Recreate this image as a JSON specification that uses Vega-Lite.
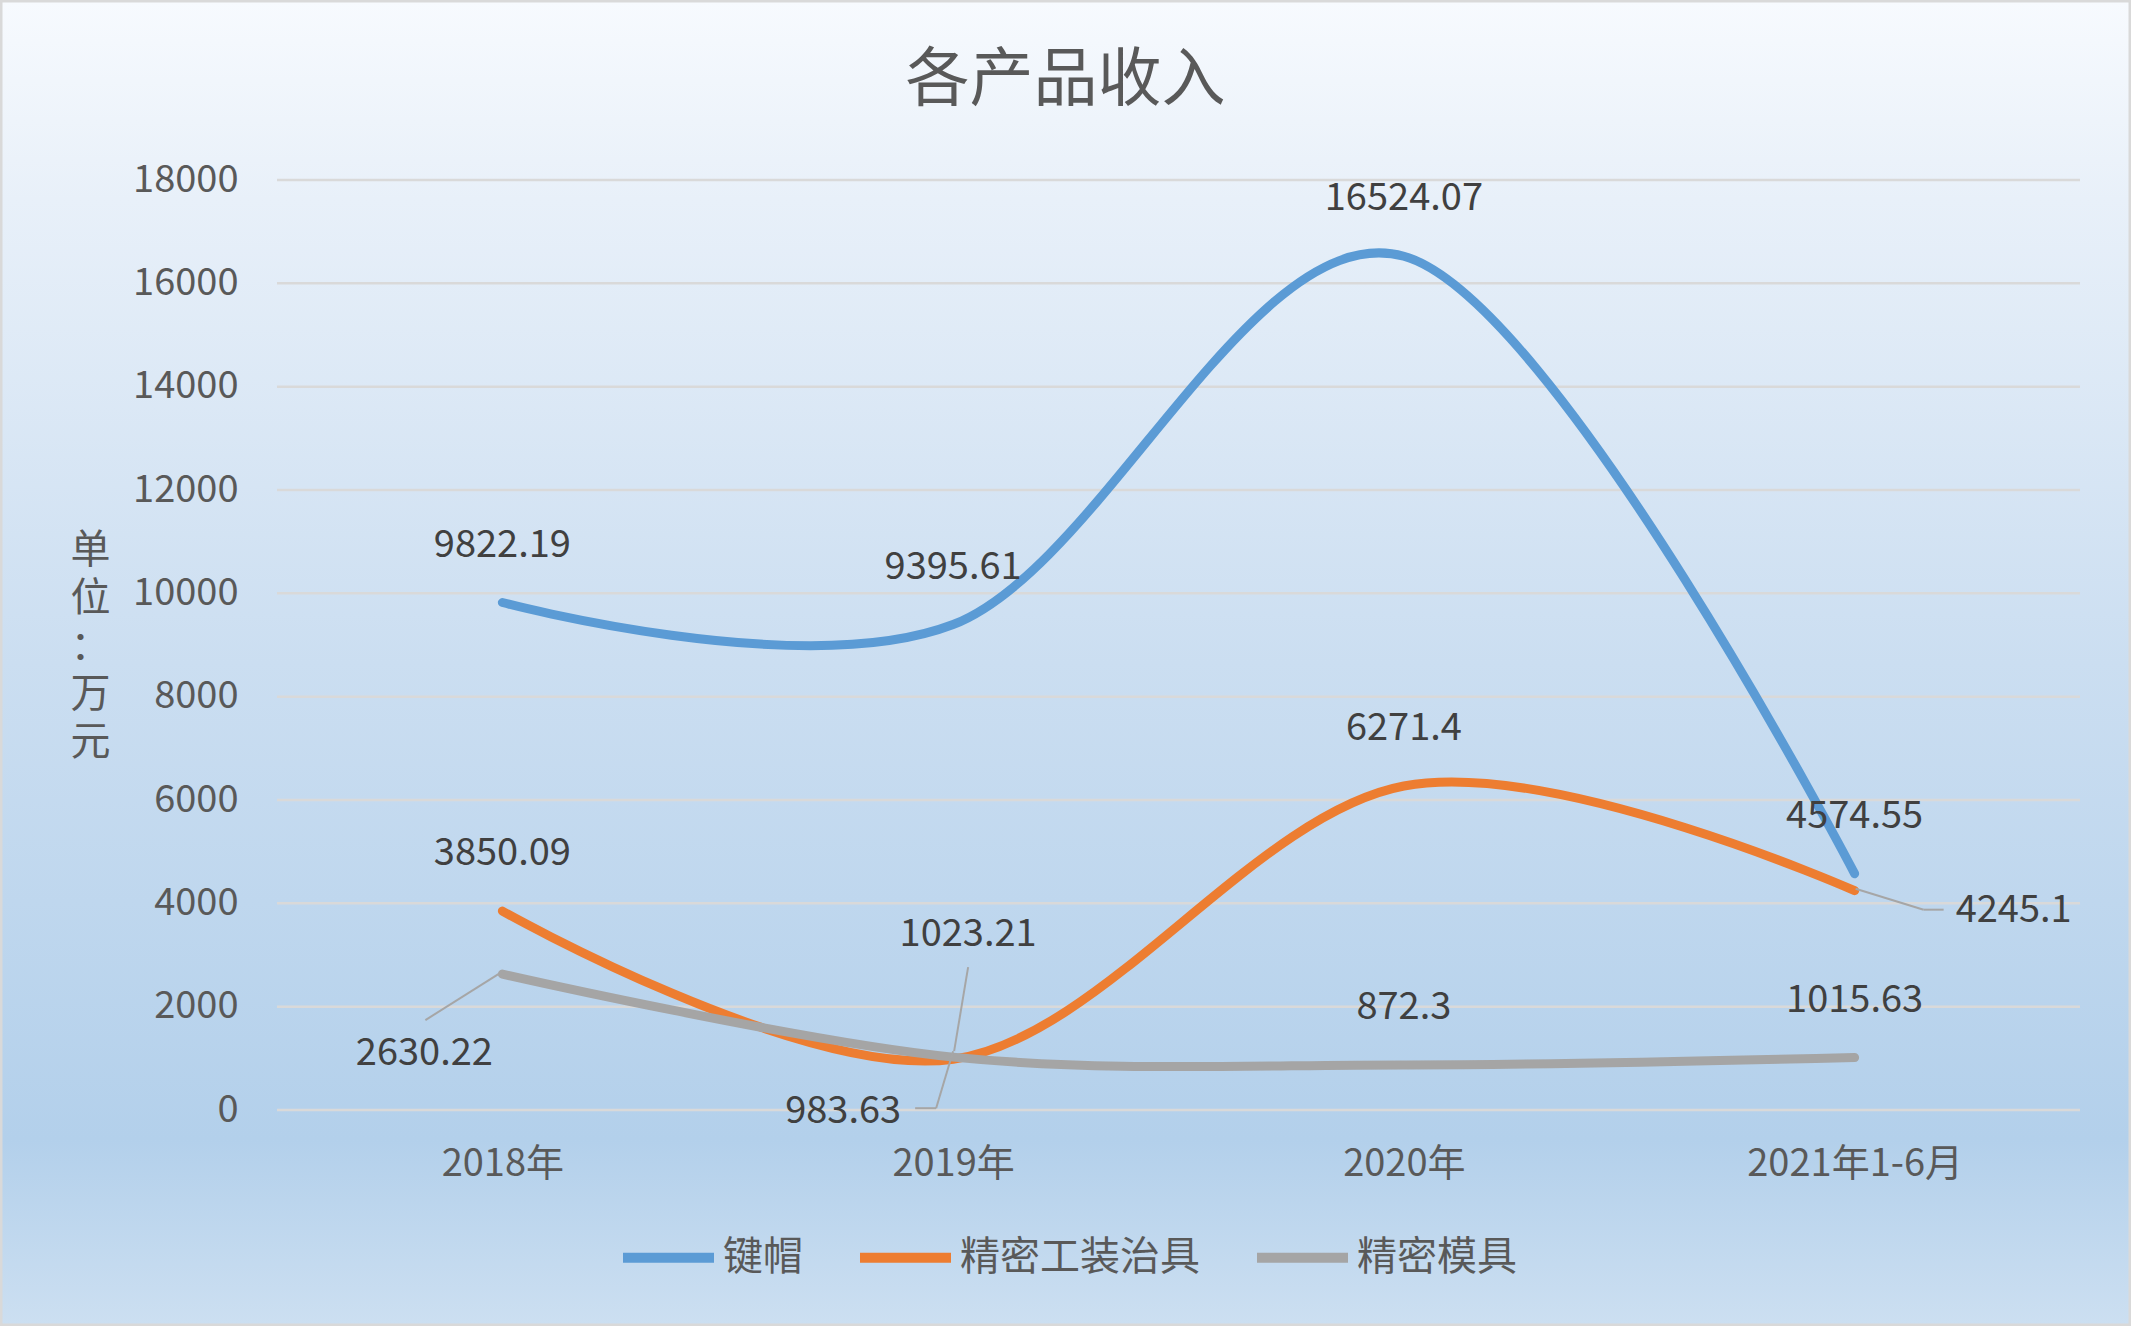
{
  "$schema": "https://vega.github.io/schema/vega-lite/v6.json",
  "width": 1803,
  "height": 930,
  "autosize": "none",
  "padding": {"left": 277, "top": 180, "right": 51, "bottom": 216},
  "background": "#ffffff",
  "title": {
    "text": "各产品收入",
    "fontSize": 64,
    "fontWeight": "normal",
    "color": "#595959",
    "anchor": "middle",
    "dx": -113,
    "dy": 113,
    "offset": 0
  },
  "datasets": {
    "income": [
      {"year": "2018年", "product": "键帽", "value": 9822.19},
      {"year": "2019年", "product": "键帽", "value": 9395.61},
      {"year": "2020年", "product": "键帽", "value": 16524.07},
      {"year": "2021年1-6月", "product": "键帽", "value": 4574.55},
      {"year": "2018年", "product": "精密工装治具", "value": 3850.09},
      {"year": "2019年", "product": "精密工装治具", "value": 983.63},
      {"year": "2020年", "product": "精密工装治具", "value": 6271.4},
      {"year": "2021年1-6月", "product": "精密工装治具", "value": 4245.1},
      {"year": "2018年", "product": "精密模具", "value": 2630.22},
      {"year": "2019年", "product": "精密模具", "value": 1023.21},
      {"year": "2020年", "product": "精密模具", "value": 872.3},
      {"year": "2021年1-6月", "product": "精密模具", "value": 1015.63}
    ],
    "grid": [
      {"tick": 0}, {"tick": 2000}, {"tick": 4000}, {"tick": 6000}, {"tick": 8000},
      {"tick": 10000}, {"tick": 12000}, {"tick": 14000}, {"tick": 16000}, {"tick": 18000}
    ]
  },
  "resolve": {"scale": {"x": "independent"}},
  "layer": [
    {
      "data": {"values": [{"part": "background"}]},
      "mark": {
        "type": "rect",
        "stroke": "#D9D9D9",
        "strokeWidth": 3,
        "fill": {
          "gradient": "linear",
          "x1": 0, "y1": 0, "x2": 0, "y2": 1,
          "stops": [
            {"offset": 0, "color": "#F7FAFE"},
            {"offset": 0.15, "color": "#E8F0F9"},
            {"offset": 0.5, "color": "#CBDEF1"},
            {"offset": 0.86, "color": "#B3D0EB"},
            {"offset": 1, "color": "#CCDFF1"}
          ]
        }
      },
      "encoding": {
        "x": {"datum": -0.15308, "type": "quantitative", "scale": {"domain": [0, 1], "nice": false, "zero": false}, "axis": null},
        "x2": {"datum": 1.02773},
        "y": {
          "datum": 21464, "type": "quantitative",
          "scale": {"domain": [0, 18000], "nice": false},
          "axis": {
            "orient": "left",
            "zindex": 2,
            "values": [0, 2000, 4000, 6000, 8000, 10000, 12000, 14000, 16000, 18000],
            "format": "d", "domain": false, "ticks": false, "grid": false,
            "labelFontSize": 38, "labelColor": "#595959", "labelPadding": 39,
            "title": ["单", "位", "：", "万", "元"],
            "titleAngle": 0, "titleFontSize": 40, "titleLineHeight": 48, "titleFontWeight": "normal",
            "titleColor": "#595959", "titleAlign": "center", "titleBaseline": "middle",
            "titleX": -187, "titleY": 370
          }
        },
        "y2": {"datum": -4161}
      }
    },
    {
      "layer": [
        {
          "data": {"name": "grid"},
          "mark": {"type": "rule", "stroke": "#D9D9D9", "strokeWidth": 2.5},
          "encoding": {
            "y": {"field": "tick", "type": "quantitative", "scale": {"domain": [0, 18000], "nice": false}, "axis": {"zindex": 2}}
          }
        },
        {
          "data": {"name": "income"},
          "mark": {"type": "line", "interpolate": "cardinal", "tension": 0, "strokeWidth": 9, "strokeCap": "round"},
          "encoding": {
            "x": {
              "field": "year", "type": "nominal",
              "scale": {"type": "point", "padding": 0.5, "domain": ["2018年", "2019年", "2020年", "2021年1-6月"]},
              "axis": {"orient": "bottom", "title": null, "zindex": 1, "domain": false, "ticks": false, "labelAngle": 0, "labelFontSize": 38, "labelColor": "#595959", "labelPadding": 35, "labelLimit": 400}
            },
            "y": {
              "field": "value", "type": "quantitative",
              "scale": {"domain": [0, 18000], "nice": false},
              "axis": {"zindex": 2}
            },
            "color": {
              "field": "product", "type": "nominal",
              "scale": {"domain": ["键帽", "精密工装治具", "精密模具"], "range": ["#5B9BD5", "#ED7D31", "#A5A5A5"]},
              "legend": {
                "orient": "none", "legendX": 341, "legendY": 1027, "direction": "horizontal", "title": null,
                "labelFontSize": 40, "labelColor": "#595959", "labelLimit": 400, "labelOffset": 4,
                "symbolType": "stroke", "symbolSize": 8281, "symbolStrokeWidth": 10, "columnPadding": 37
              }
            }
          }
        },
        {
          "data": {"name": "income"},
          "transform": [{"filter": "!((datum.product == '精密工装治具' && (datum.year == '2019年' || datum.year == '2021年1-6月')) || (datum.product == '精密模具' && (datum.year == '2018年' || datum.year == '2019年')))"}],
          "mark": {"type": "text", "dy": -57, "fontSize": 38, "color": "#404040"},
          "encoding": {
            "x": {"field": "year", "type": "nominal"},
            "y": {"field": "value", "type": "quantitative"},
            "text": {"field": "value", "type": "quantitative"}
          }
        },
        {
          "data": {"name": "income"},
          "transform": [{"filter": "datum.product == '精密工装治具' && datum.year == '2019年'"}],
          "mark": {"type": "text", "dx": -110, "dy": 53, "fontSize": 38, "color": "#404040"},
          "encoding": {
            "x": {"field": "year", "type": "nominal"},
            "y": {"field": "value", "type": "quantitative"},
            "text": {"field": "value", "type": "quantitative"}
          }
        },
        {
          "data": {"name": "income"},
          "transform": [{"filter": "datum.product == '精密工装治具' && datum.year == '2021年1-6月'"}],
          "mark": {"type": "text", "dx": 159, "dy": 20, "fontSize": 38, "color": "#404040"},
          "encoding": {
            "x": {"field": "year", "type": "nominal"},
            "y": {"field": "value", "type": "quantitative"},
            "text": {"field": "value", "type": "quantitative"}
          }
        },
        {
          "data": {"name": "income"},
          "transform": [{"filter": "datum.product == '精密模具' && datum.year == '2018年'"}],
          "mark": {"type": "text", "dx": -78, "dy": 80, "fontSize": 38, "color": "#404040"},
          "encoding": {
            "x": {"field": "year", "type": "nominal"},
            "y": {"field": "value", "type": "quantitative"},
            "text": {"field": "value", "type": "quantitative"}
          }
        },
        {
          "data": {"name": "income"},
          "transform": [{"filter": "datum.product == '精密模具' && datum.year == '2019年'"}],
          "mark": {"type": "text", "dx": 15, "dy": -122, "fontSize": 38, "color": "#404040"},
          "encoding": {
            "x": {"field": "year", "type": "nominal"},
            "y": {"field": "value", "type": "quantitative"},
            "text": {"field": "value", "type": "quantitative"}
          }
        },
        {
          "data": {"name": "income"},
          "transform": [{"filter": "datum.product == '精密模具' && datum.year == '2018年'"}],
          "mark": {"type": "rule", "stroke": "#A6A6A6", "strokeWidth": 2, "xOffset": -77, "yOffset": 46, "x2Offset": -4, "y2Offset": 0},
          "encoding": {
            "x": {"field": "year", "type": "nominal"},
            "y": {"field": "value", "type": "quantitative"},
            "x2": {"field": "year"},
            "y2": {"field": "value"}
          }
        },
        {
          "data": {"name": "income"},
          "transform": [{"filter": "datum.product == '精密模具' && datum.year == '2019年'"}],
          "mark": {"type": "rule", "stroke": "#A6A6A6", "strokeWidth": 2, "xOffset": 15, "yOffset": -90, "x2Offset": 1, "y2Offset": -6},
          "encoding": {
            "x": {"field": "year", "type": "nominal"},
            "y": {"field": "value", "type": "quantitative"},
            "x2": {"field": "year"},
            "y2": {"field": "value"}
          }
        },
        {
          "data": {"name": "income"},
          "transform": [{"filter": "datum.product == '精密工装治具' && datum.year == '2019年'"}],
          "mark": {"type": "rule", "stroke": "#A6A6A6", "strokeWidth": 2, "xOffset": -38, "yOffset": 49, "x2Offset": -17, "y2Offset": 49},
          "encoding": {
            "x": {"field": "year", "type": "nominal"},
            "y": {"field": "value", "type": "quantitative"},
            "x2": {"field": "year"},
            "y2": {"field": "value"}
          }
        },
        {
          "data": {"name": "income"},
          "transform": [{"filter": "datum.product == '精密工装治具' && datum.year == '2019年'"}],
          "mark": {"type": "rule", "stroke": "#A6A6A6", "strokeWidth": 2, "xOffset": -17, "yOffset": 49, "x2Offset": 0, "y2Offset": -8},
          "encoding": {
            "x": {"field": "year", "type": "nominal"},
            "y": {"field": "value", "type": "quantitative"},
            "x2": {"field": "year"},
            "y2": {"field": "value"}
          }
        },
        {
          "data": {"name": "income"},
          "transform": [{"filter": "datum.product == '精密工装治具' && datum.year == '2021年1-6月'"}],
          "mark": {"type": "rule", "stroke": "#A6A6A6", "strokeWidth": 2, "xOffset": 1, "yOffset": -2, "x2Offset": 69, "y2Offset": 19},
          "encoding": {
            "x": {"field": "year", "type": "nominal"},
            "y": {"field": "value", "type": "quantitative"},
            "x2": {"field": "year"},
            "y2": {"field": "value"}
          }
        },
        {
          "data": {"name": "income"},
          "transform": [{"filter": "datum.product == '精密工装治具' && datum.year == '2021年1-6月'"}],
          "mark": {"type": "rule", "stroke": "#A6A6A6", "strokeWidth": 2, "xOffset": 69, "yOffset": 19, "x2Offset": 89, "y2Offset": 19},
          "encoding": {
            "x": {"field": "year", "type": "nominal"},
            "y": {"field": "value", "type": "quantitative"},
            "x2": {"field": "year"},
            "y2": {"field": "value"}
          }
        }
      ]
    }
  ],
  "config": {
    "font": "Noto Sans CJK SC",
    "view": {"stroke": null}
  }
}
